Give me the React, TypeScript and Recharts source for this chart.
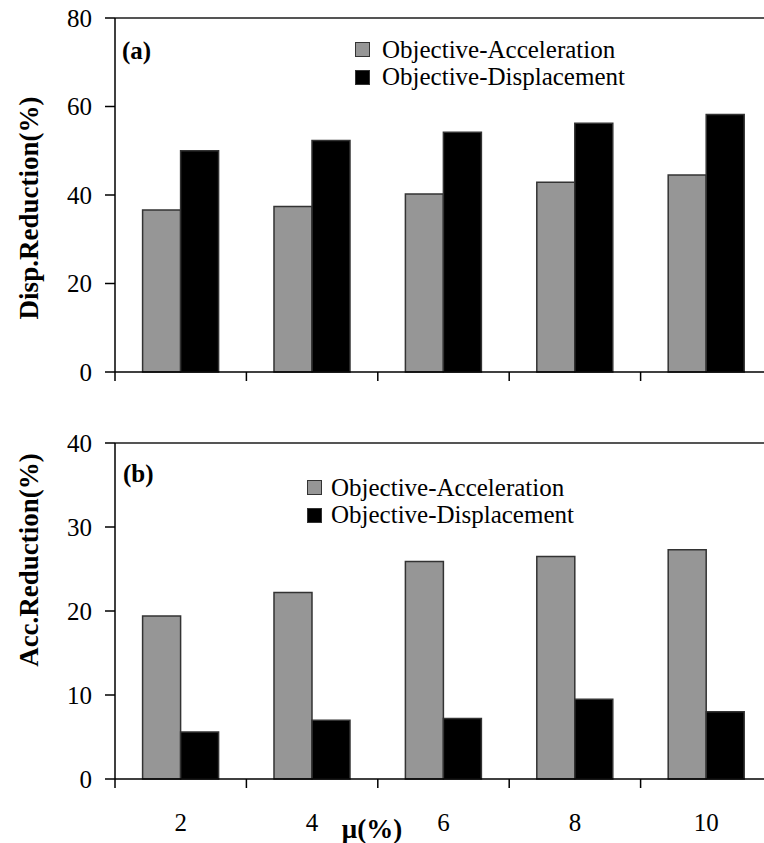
import React from 'react';
import { BarChart, Bar, XAxis, YAxis, Legend, ReferenceLine } from 'recharts';

// values
const muLabels = ['2', '4', '6', '8', '10'];
const dispObjAcc = [36.6, 37.4, 40.2, 42.9, 44.5];
const dispObjDisp = [50.0, 52.3, 54.2, 56.2, 58.2];
const accObjAcc = [19.4, 22.2, 25.9, 26.5, 27.3];
const accObjDisp = [5.6, 7.0, 7.2, 9.5, 8.0];
const dispTicks = [0, 20, 40, 60, 80];
const accTicks = [0, 10, 20, 30, 40];

const dispData = muLabels.map((mu, i) => ({ mu, objAcc: dispObjAcc[i], objDisp: dispObjDisp[i] }));
const accData = muLabels.map((mu, i) => ({ mu, objAcc: accObjAcc[i], objDisp: accObjDisp[i] }));

const CHART_W = 780;
const YAXIS_W = 115;
const MARGIN_R = 8;
const HALF_BAND = (CHART_W - YAXIS_W - MARGIN_R) / muLabels.length / 2;
const FONT = "'Liberation Serif', 'Times New Roman', serif";

const GRAY = '#969696';
const BORDER = '#333';

// tick marks sit between categories, labels at category centres
const CatTick = (props: any) => {
  const { x, y, payload, showLabel } = props;
  return (
    <g>
      <line x1={x - HALF_BAND} x2={x - HALF_BAND} y1={y} y2={y + 9} stroke="#000" strokeWidth={1.5} />
      {showLabel && (
        <text x={x} y={y + 43} dy="0.355em" textAnchor="middle" fill="#000" fontSize={25} fontFamily={FONT}>
          {payload.value}
        </text>
      )}
    </g>
  );
};

const makeLegend = (gap: number) => (props: any) => {
  const { payload } = props;
  return (
    <div style={{ fontFamily: FONT, fontSize: 25, color: '#000' }}>
      {payload.map((entry: any) => (
        <div key={entry.value} style={{ display: 'flex', alignItems: 'center', height: 27.5, whiteSpace: 'nowrap' }}>
          <span
            style={{
              display: 'inline-block',
              width: 13,
              height: 13,
              background: entry.color,
              border: `1.5px solid ${BORDER}`,
              marginRight: gap,
            }}
          />
          {entry.value}
        </div>
      ))}
    </div>
  );
};

const App = () => {
  return (
    <div
      style={{
        position: 'absolute',
        left: 0,
        top: 0,
        width: 764,
        height: 843,
        overflow: 'hidden',
        background: '#fff',
        fontFamily: FONT,
      }}
    >
      {/* (a) displacement reduction */}
      <BarChart
        width={CHART_W}
        height={400}
        data={dispData}
        margin={{ top: 18, right: MARGIN_R, left: 0, bottom: 0 }}
        barGap={0}
        barCategoryGap="21%"
      >
        <XAxis
          dataKey="mu"
          height={28}
          tickSize={0}
          tickMargin={0}
          axisLine={{ stroke: '#000', strokeWidth: 1.5 }}
          tickLine={false}
          tick={<CatTick showLabel={false} />}
          interval={0}
        />
        <YAxis
          width={YAXIS_W}
          domain={[0, 80]}
          ticks={dispTicks}
          tickSize={10}
          tickMargin={13}
          axisLine={{ stroke: '#000', strokeWidth: 1.5 }}
          tickLine={{ stroke: '#000', strokeWidth: 1.5 }}
          tick={{ fill: '#000', fontSize: 25, fontFamily: FONT }}
        />
        <ReferenceLine y={80} stroke="#555" strokeWidth={2} />
        <Bar dataKey="objAcc" name="Objective-Acceleration" fill={GRAY} stroke={BORDER} strokeWidth={1.5} isAnimationActive={false} />
        <Bar dataKey="objDisp" name="Objective-Displacement" fill="#000" stroke={BORDER} strokeWidth={1.5} isAnimationActive={false} />
        <Legend
          layout="vertical"
          align="center"
          verticalAlign="middle"
          content={makeLegend(12)}
          wrapperStyle={{ top: 36, left: 355, width: 320 }}
        />
        <text x={122} y={50} dy="0.355em" fontSize={25} fontWeight="bold" fontFamily={FONT} fill="#000">(a)</text>
        <text
          x={28}
          y={208}
          dy="0.355em"
          transform="rotate(-90, 28, 208)"
          textAnchor="middle"
          fontSize={27}
          fontWeight="bold"
          fontFamily={FONT}
          fill="#000"
        >
          Disp.Reduction(%)
        </text>
      </BarChart>

      {/* (b) acceleration reduction */}
      <BarChart
        width={CHART_W}
        height={443}
        data={accData}
        margin={{ top: 43, right: MARGIN_R, left: 0, bottom: 0 }}
        barGap={0}
        barCategoryGap="21%"
      >
        <XAxis
          dataKey="mu"
          height={64}
          tickSize={0}
          tickMargin={0}
          axisLine={{ stroke: '#000', strokeWidth: 1.5 }}
          tickLine={false}
          tick={<CatTick showLabel />}
          interval={0}
        />
        <YAxis
          width={YAXIS_W}
          domain={[0, 40]}
          ticks={accTicks}
          tickSize={10}
          tickMargin={13}
          axisLine={{ stroke: '#000', strokeWidth: 1.5 }}
          tickLine={{ stroke: '#000', strokeWidth: 1.5 }}
          tick={{ fill: '#000', fontSize: 25, fontFamily: FONT }}
        />
        <ReferenceLine y={40} stroke="#555" strokeWidth={2} />
        <Bar dataKey="objAcc" name="Objective-Acceleration" fill={GRAY} stroke={BORDER} strokeWidth={1.5} isAnimationActive={false} />
        <Bar dataKey="objDisp" name="Objective-Displacement" fill="#000" stroke={BORDER} strokeWidth={1.5} isAnimationActive={false} />
        <Legend
          layout="vertical"
          align="center"
          verticalAlign="middle"
          content={makeLegend(9)}
          wrapperStyle={{ top: 74, left: 307, width: 320 }}
        />
        <text x={123} y={73} dy="0.355em" fontSize={25} fontWeight="bold" fontFamily={FONT} fill="#000">(b)</text>
        <text
          x={28}
          y={160}
          dy="0.355em"
          transform="rotate(-90, 28, 160)"
          textAnchor="middle"
          fontSize={27}
          fontWeight="bold"
          fontFamily={FONT}
          fill="#000"
        >
          Acc.Reduction(%)
        </text>
        <text x={372} y={428} dy="0.355em" textAnchor="middle" fontSize={27} fontWeight="bold" fontFamily={FONT} fill="#000">
          μ(%)
        </text>
      </BarChart>
    </div>
  );
};

export default App;
